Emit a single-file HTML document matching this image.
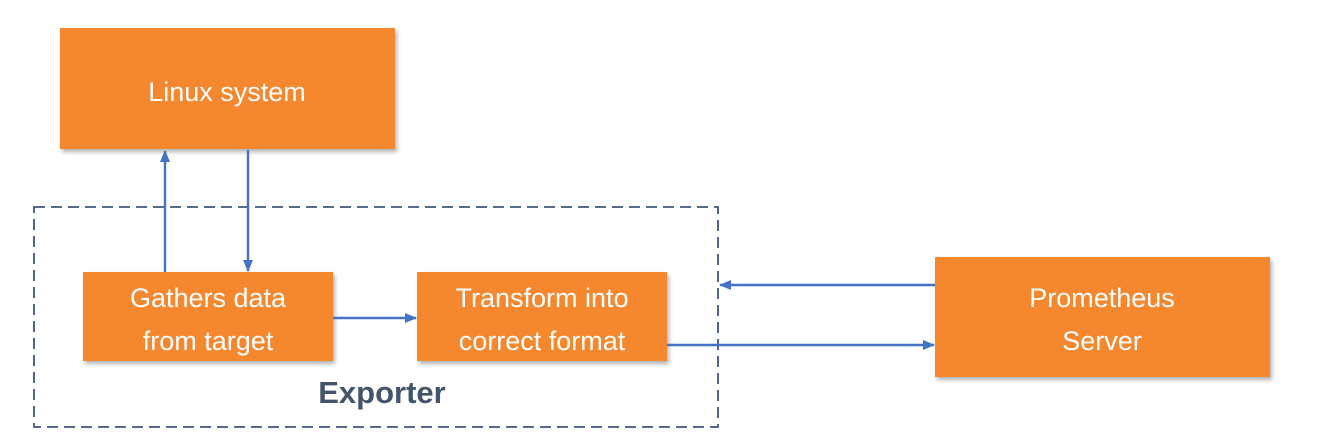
<!DOCTYPE html>
<html><head><meta charset="utf-8"><style>
body{margin:0;background:#fff;width:1323px;height:442px;overflow:hidden;font-family:"Liberation Sans",sans-serif}
svg{display:block}
</style></head><body>
<svg width="1323" height="442">
<defs>
<marker id="ah" markerWidth="12" markerHeight="12" refX="11" refY="6" orient="auto" markerUnits="userSpaceOnUse"><path d="M0,1 L12,6 L0,11 z" fill="#4472c4"/></marker>
<filter id="sh" x="-10%" y="-10%" width="130%" height="140%"><feDropShadow dx="2" dy="3" stdDeviation="2" flood-color="#000" flood-opacity="0.3"/></filter>
</defs>
<rect x="34" y="207" width="684" height="220" fill="none" stroke="#3f5580" stroke-width="1.8" stroke-dasharray="11,6"/>
<g fill="#f5872d" filter="url(#sh)">
<rect x="60" y="28" width="335" height="121"/>
<rect x="83" y="272" width="250" height="89"/>
<rect x="417" y="272" width="250" height="89"/>
<rect x="935" y="257" width="335" height="120"/>
</g>
<g fill="#fff" font-size="27" text-anchor="middle">
<text x="227" y="101">Linux system</text>
<text x="208" y="307">Gathers data</text>
<text x="208" y="350">from target</text>
<text x="542" y="307">Transform into</text>
<text x="542" y="350">correct format</text>
<text x="1102" y="307">Prometheus</text>
<text x="1102" y="350">Server</text>
</g>
<text x="382" y="403" text-anchor="middle" font-size="31" font-weight="bold" fill="#44546a">Exporter</text>
<g stroke="#4472c4" stroke-width="2.4" marker-end="url(#ah)">
<line x1="165" y1="272" x2="165" y2="151"/>
<line x1="248" y1="150" x2="248" y2="271"/>
<line x1="333" y1="318" x2="416" y2="318"/>
<line x1="935" y1="285" x2="720" y2="285"/>
<line x1="667" y1="345" x2="934" y2="345"/>
</g>
</svg>
</body></html>
